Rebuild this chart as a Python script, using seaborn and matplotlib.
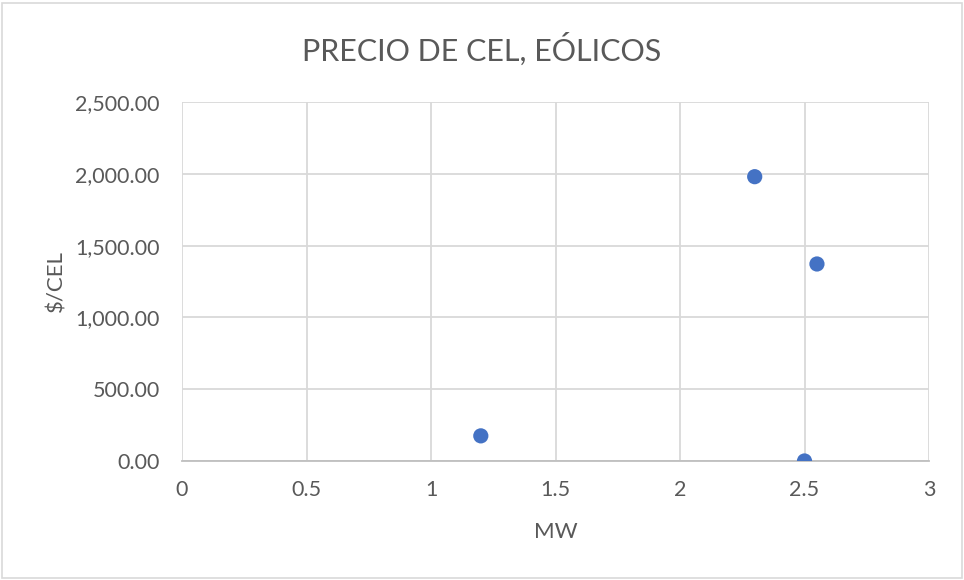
import matplotlib
matplotlib.use("Agg")
import matplotlib.pyplot as plt
import seaborn as sns
import pandas as pd
from matplotlib.ticker import FuncFormatter, MultipleLocator
from matplotlib.patches import Rectangle

# data
mw = [1.2, 2.3, 2.55, 2.5]
precio = [175, 1980, 1372, 0]

df = pd.DataFrame({"MW": mw, "$/CEL": precio})

sns.set_style("white")
plt.rcParams['font.family'] = ['Lato', 'DejaVu Sans']
text_color = '#595959'

fig = plt.figure(figsize=(9.64, 5.8), dpi=100)
ax = fig.add_axes([0.1888, 0.2052, 0.7749, 0.6189])

sns.scatterplot(data=df, x="MW", y="$/CEL", ax=ax, color='#4472C4',
                s=120, edgecolor='none', zorder=3)

ax.set_xlim(0, 3)
ax.set_ylim(0, 2500)
ax.xaxis.set_major_locator(MultipleLocator(0.5))
ax.yaxis.set_major_locator(MultipleLocator(500))
ax.xaxis.set_major_formatter(FuncFormatter(lambda v, p: f"{v:g}"))
ax.yaxis.set_major_formatter(FuncFormatter(lambda v, p: f"{v:,.2f}"))
ax.grid(True, color='#d9d9d9', linewidth=1.3)
ax.set_axisbelow(True)

for side in ['top', 'right', 'left']:
    ax.spines[side].set_visible(False)
ax.spines['bottom'].set_color('#bfbfbf')
ax.spines['bottom'].set_linewidth(1.3)
ax.tick_params(axis='both', length=0, labelsize=15.5, colors=text_color)
ax.tick_params(axis='x', pad=14)
ax.tick_params(axis='y', pad=16)

ax.set_xlabel("MW", fontsize=16, color=text_color)
ax.set_ylabel("$/CEL", fontsize=16, color=text_color)
ax.xaxis.set_label_coords(0.5, -0.17)
ax.yaxis.set_label_coords(-0.155, 0.5)
fig.text(0.5, 0.915, "PRECIO DE CEL, EÓLICOS", ha='center', va='center',
         fontsize=22, color=text_color)

# chart border
fig.patches.append(Rectangle((0.002, 0.0035), 0.996, 0.991, transform=fig.transFigure,
                             fill=False, edgecolor='#d9d9d9', linewidth=1.2))

fig.savefig("out.png", dpi=100)
